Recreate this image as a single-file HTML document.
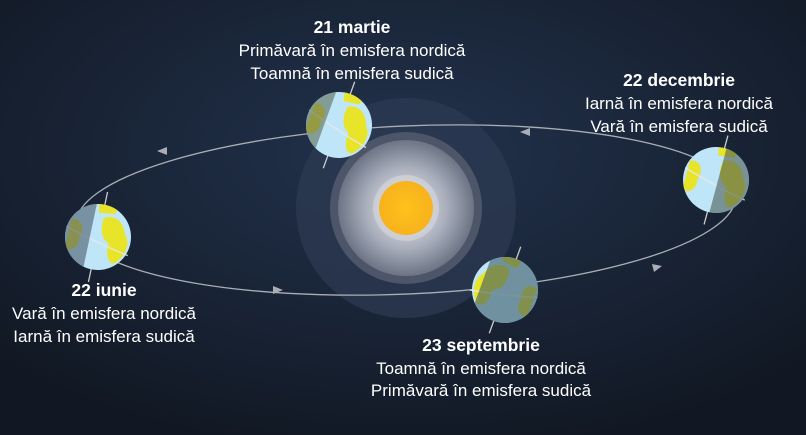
<!DOCTYPE html>
<html><head><meta charset="utf-8"><style>
html,body{margin:0;padding:0;width:806px;height:435px;overflow:hidden;background:#141d2b}
svg{display:block}
text{font-family:"Liberation Sans",sans-serif;fill:#fff;text-anchor:middle}
.t{font-weight:bold;font-size:17.5px}.l{font-size:17px}
</style></head><body>
<svg width="806" height="435">
<defs>
<radialGradient id="bg" cx="0.5" cy="0.35" r="0.7"><stop offset="0" stop-color="#22324d"/><stop offset="1" stop-color="#111823"/></radialGradient>
<radialGradient id="glow" cx="0.5" cy="0.5" r="0.5"><stop offset="0" stop-color="#eeeef2"/><stop offset="0.6" stop-color="#a8aebb"/><stop offset="1" stop-color="#6c7485"/></radialGradient>
<radialGradient id="sun" cx="0.5" cy="0.5" r="0.5"><stop offset="0" stop-color="#ffc21a"/><stop offset="1" stop-color="#f7b21d"/></radialGradient>
<clipPath id="ec"><circle r="33"/></clipPath>
<g id="earth">
<circle r="33" fill="#bfe6f8"/>
<g clip-path="url(#ec)">
<path d="M2,-20 C12,-26 22,-20 26,-8 C34,0 30,14 22,22 C16,26 10,14 12,4 C4,2 0,-8 2,-20Z" fill="#e8e42a"/>
<path d="M-30,-12 C-20,-16 -14,-6 -18,4 C-16,14 -24,22 -30,16Z" fill="#e8e42a"/>
<path d="M-6,-34 L14,-34 L12,-26 L-4,-24Z" fill="#e8e42a"/>
</g>
<path d="M-33,-4 Q0,6 33,12" stroke="#e8e8e8" stroke-width="1.5" fill="none" opacity="0.8"/>
</g>
</defs>
<rect width="806" height="435" fill="url(#bg)"/>
<circle cx="406" cy="208" r="110" fill="#2c3a52" opacity="0.75"/>
<circle cx="406" cy="208" r="76" fill="#4d5668"/>
<circle cx="406" cy="208" r="68" fill="url(#glow)"/>
<circle cx="406" cy="208" r="33" fill="#d8d8de" opacity="0.6"/>
<circle cx="406" cy="208" r="27" fill="url(#sun)"/>
<g transform="rotate(-2.5 406 210)">
<ellipse cx="406" cy="210" rx="330" ry="84" fill="none" stroke="#a9aeb6" stroke-width="1.3"/>
</g>
<polygon points="157,151 167,147 167,155" fill="#a9aeb6"/>
<polygon points="520,132 530,128 530,136" fill="#a9aeb6"/>
<polygon points="283,290 273,286 273,294" fill="#a9aeb6"/>
<polygon points="662,266 652,264 654,272" fill="#a9aeb6"/>
<g transform="translate(339,125) rotate(20)"><line x1="0" y1="-46" x2="0" y2="46" stroke="#ccc" stroke-width="1.3"/><use href="#earth"/><g clip-path="url(#ec)"><rect x="-34" y="-34" width="20" height="68" fill="#5c6a55" opacity="0.6"/></g></g>
<g transform="translate(98,237) rotate(12)"><line x1="0" y1="-46" x2="0" y2="46" stroke="#ccc" stroke-width="1.3"/><use href="#earth"/><g clip-path="url(#ec)"><rect x="-34" y="-34" width="26" height="68" fill="#4a5a6a" opacity="0.6"/></g></g>
<g transform="translate(505,290) rotate(20) scale(-1,1)"><line x1="0" y1="-46" x2="0" y2="46" stroke="#ccc" stroke-width="1.3"/><use href="#earth"/><g clip-path="url(#ec)"><rect x="-34" y="-34" width="58" height="68" fill="#3c5a66" opacity="0.6"/></g></g>
<g transform="translate(716,180) rotate(15)"><line x1="0" y1="-46" x2="0" y2="46" stroke="#ccc" stroke-width="1.3"/><use href="#earth"/><g clip-path="url(#ec)"><rect x="2" y="-34" width="34" height="68" fill="#4a5a55" opacity="0.6"/></g></g>
<g><text class="t" x="352" y="33">21 martie</text><text class="l" x="352" y="56">Primăvară în emisfera nordică</text><text class="l" x="352" y="79">Toamnă în emisfera sudică</text></g>
<g><text class="t" x="679" y="86">22 decembrie</text><text class="l" x="679" y="109">Iarnă în emisfera nordică</text><text class="l" x="679" y="132">Vară în emisfera sudică</text></g>
<g><text class="t" x="104" y="296">22 iunie</text><text class="l" x="104" y="319">Vară în emisfera nordică</text><text class="l" x="104" y="342">Iarnă în emisfera sudică</text></g>
<g><text class="t" x="481" y="351">23 septembrie</text><text class="l" x="481" y="374">Toamnă în emisfera nordică</text><text class="l" x="481" y="396">Primăvară în emisfera sudică</text></g>
</svg>
</body></html>
